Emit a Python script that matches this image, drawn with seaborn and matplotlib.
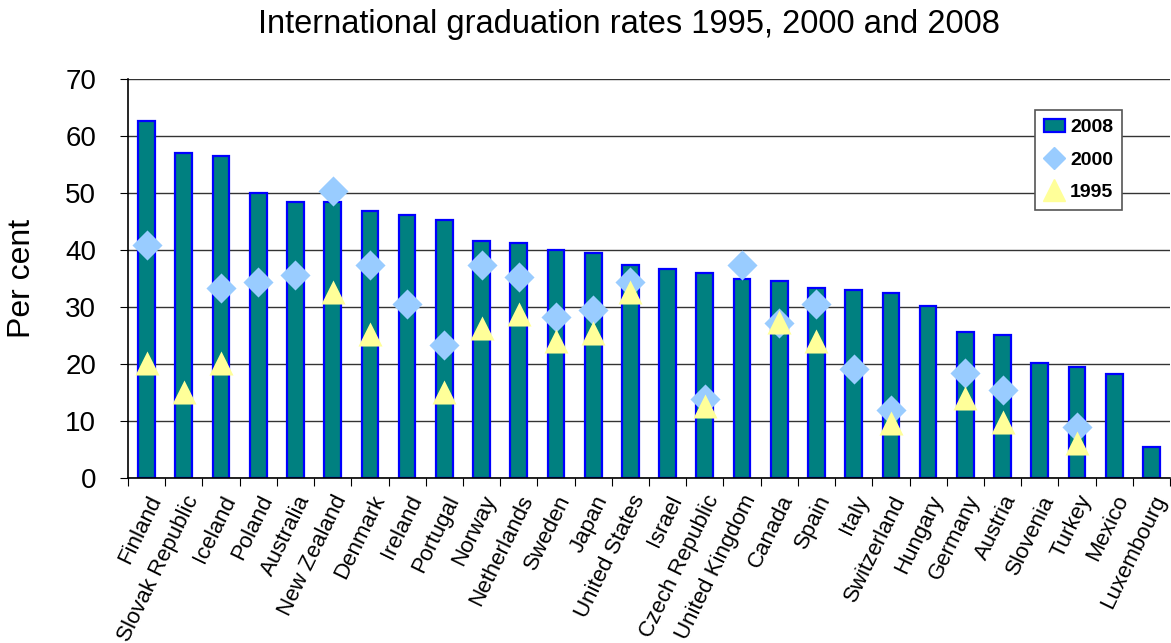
import numpy as np
import pandas as pd
import matplotlib
matplotlib.use("Agg")
import matplotlib.pyplot as plt
from matplotlib.patches import Patch
from matplotlib.lines import Line2D
import seaborn as sns

countries = [
    "Finland", "Slovak Republic", "Iceland", "Poland", "Australia",
    "New Zealand", "Denmark", "Ireland", "Portugal", "Norway",
    "Netherlands", "Sweden", "Japan", "United States", "Israel",
    "Czech Republic", "United Kingdom", "Canada", "Spain", "Italy",
    "Switzerland", "Hungary", "Germany", "Austria", "Slovenia",
    "Turkey", "Mexico", "Luxembourg",
]
rate_2008 = [
    62.6, 57.0, 56.5, 50.0, 48.5, 48.4, 46.8, 46.2, 45.3, 41.5,
    41.3, 40.0, 39.5, 37.3, 36.6, 36.0, 35.0, 34.5, 33.3, 33.0,
    32.5, 30.2, 25.6, 25.1, 20.1, 19.5, 18.2, 5.4,
]
rate_2000 = [
    40.8, np.nan, 33.3, 34.4, 35.6, 50.3, 37.3, 30.5, 23.3, 37.4,
    35.2, 28.2, 29.4, 34.4, np.nan, 13.9, 37.4, 27.2, 30.5, 19.1,
    11.9, np.nan, 18.5, 15.4, np.nan, 8.9, np.nan, np.nan,
]
rate_1995 = [
    20.2, 15.1, 20.2, np.nan, np.nan, 32.7, 25.3, np.nan, 15.1, 26.4,
    28.7, 24.0, 25.5, 32.7, np.nan, 12.7, np.nan, 27.3, 24.0, np.nan,
    9.6, np.nan, 14.0, 9.9, np.nan, 6.1, np.nan, np.nan,
]
y_ticks = [0, 10, 20, 30, 40, 50, 60, 70]

BAR_FACE = "#008080"
BAR_EDGE = "#0000FF"
DIAMOND = "#99CCFF"
TRIANGLE = "#FFFF99"

plt.rcParams["font.family"] = ["Liberation Sans", "DejaVu Sans"]

df = pd.DataFrame({
    "country": countries,
    "pos": np.arange(len(countries)),
    "y2008": rate_2008,
    "y2000": rate_2000,
    "y1995": rate_1995,
})

fig = plt.figure(figsize=(11.71, 6.43), dpi=100)
ax = fig.add_axes([128 / 1171, 165 / 643, 1042 / 1171, 399 / 643])

ax.set_axisbelow(True)
ax.grid(axis="y", color="#333333", linewidth=1)

sns.barplot(
    data=df, x="pos", y="y2008", order=list(range(len(countries))),
    color=BAR_FACE, edgecolor=BAR_EDGE, linewidth=1.6, width=0.45,
    saturation=1, ax=ax,
)
sns.scatterplot(
    data=df, x="pos", y="y2000", marker="D", s=235,
    color=DIAMOND, linewidth=0, ax=ax, zorder=3,
)
sns.scatterplot(
    data=df, x="pos", y="y1995", marker="^", s=300,
    color=TRIANGLE, linewidth=0, ax=ax, zorder=4,
)

ax.set_xlim(-0.5, len(countries) - 0.5)
ax.set_ylim(0, 70)
ax.set_yticks(y_ticks)
ax.tick_params(axis="y", labelsize=20, length=6, pad=17, direction="out", color="black")

# category ticks sit on the boundaries, labels at the centers
ax.set_xticks(np.arange(len(countries) + 1) - 0.5)
ax.set_xticklabels([])
ax.set_xticks(np.arange(len(countries)), minor=True)
ax.set_xticklabels(countries, minor=True, rotation=64, ha="right",
                   rotation_mode="anchor", fontsize=16)
ax.tick_params(axis="x", which="major", length=6, direction="out", color="black")
ax.tick_params(axis="x", which="minor", length=0, pad=10)

ax.set_xlabel("")
ax.set_ylabel("Per cent", fontsize=23)
ax.yaxis.set_label_coords(-91 / 1042, 0.5)

for side in ["top", "right"]:
    ax.spines[side].set_visible(False)
for side in ["left", "bottom"]:
    ax.spines[side].set_color("black")
    ax.spines[side].set_linewidth(1.2)

fig.text(629 / 1171, 1 - 25 / 643, "International graduation rates 1995, 2000 and 2008",
         ha="center", va="center", fontsize=23.5)

handles = [
    Patch(facecolor=BAR_FACE, edgecolor=BAR_EDGE, linewidth=1.6),
    Line2D([], [], marker="D", color=DIAMOND, linestyle="none", markersize=11),
    Line2D([], [], marker="^", color=TRIANGLE, linestyle="none", markersize=16),
]
leg = fig.legend(
    handles, ["2008", "2000", "1995"],
    loc="upper right", bbox_to_anchor=(1122 / 1171, 1 - 110 / 643),
    borderaxespad=0,
    prop={"weight": "bold", "size": 14}, frameon=True, fancybox=False,
    edgecolor="#555555", framealpha=1, handlelength=1.1, handletextpad=0.25,
    labelspacing=0.75, borderpad=0.45,
)
leg.get_frame().set_linewidth(1.2)

fig.savefig("out.png", dpi=100)
